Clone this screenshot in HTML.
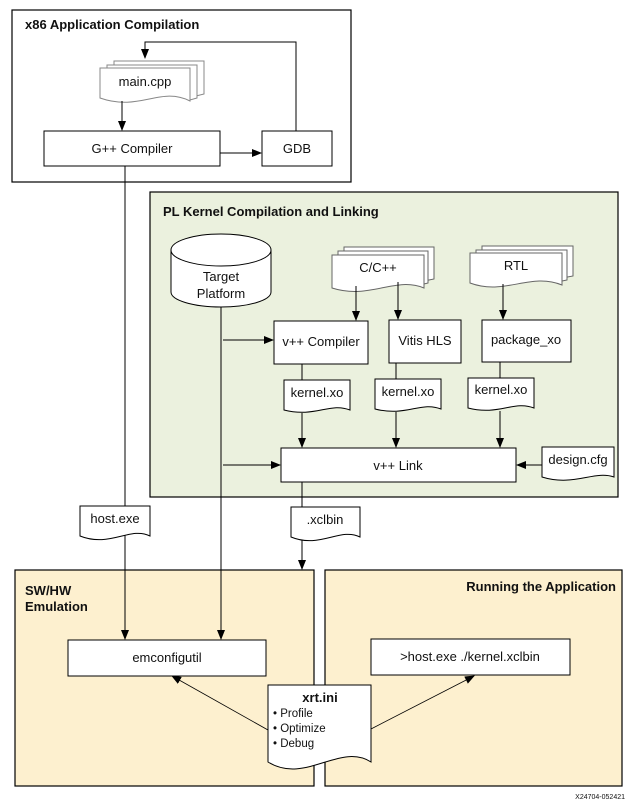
<!DOCTYPE html>
<html><head><meta charset="utf-8"><style>
html,body{margin:0;padding:0;background:#fff;}
svg{display:block;font-family:"Liberation Sans",sans-serif;}
text{font-size:13px;fill:#111;}
.t{font-weight:bold;font-size:13px;}
</style></head><body>
<svg width="634" height="804" viewBox="0 0 634 804" xmlns="http://www.w3.org/2000/svg">
<defs>
<marker id="a" markerWidth="10" markerHeight="8" refX="9" refY="4" orient="auto" markerUnits="userSpaceOnUse">
<path d="M0,0 L10,4 L0,8 Z" fill="#000"/></marker>
</defs>
<g stroke="#000" stroke-width="1.2" fill="none">
<rect x="12" y="10" width="339" height="172" fill="#fff"/>
<rect x="150" y="192" width="468" height="305" fill="#ebf1de"/>
<rect x="15" y="570" width="299" height="216" fill="#fdf0cf"/>
<rect x="325" y="570" width="297" height="216" fill="#fdf0cf"/>
</g>
<g stroke="#000" stroke-width="1" fill="none">
<path d="M125,166 V639" marker-end="url(#a)"/>
<path d="M221,306 V639" marker-end="url(#a)"/>
<path d="M302,482 V569" marker-end="url(#a)"/>
</g>
<g fill="#fff" stroke="#000" stroke-width="1">
<path d="M114,61 H204 V94 L196,96 V69 H114 Z" stroke="#888"/>
<path d="M107,65 H197 V98 L190,100 V72 H107 Z" stroke="#888"/>
<path d="M100,68 H190 V101 C160,86 140,112 100,98 Z" stroke="#888"/>
<path d="M344,247 H434 V279 L424,281 V256 H344 Z" stroke="#666"/>
<path d="M338,251 H428 V283 L424,284 V258 H338 Z" stroke="#666"/>
<path d="M332,255 H424 V288 C395,276 370,300 332,288 Z" stroke="#666"/>
<path d="M482,246 H573 V276 L562,278 V254 H482 Z" stroke="#666"/>
<path d="M476,250 H567 V280 L562,281 V256 H476 Z" stroke="#666"/>
<path d="M470,253 H562 V285 C530,272 505,296 470,283 Z" stroke="#666"/>
<path d="M284,380 H350 V410 C330,402 315,418 284,410 Z"/>
<path d="M375,379 H441 V409 C421,401 406,417 375,409 Z"/>
<path d="M468,378 H534 V408 C514,400 499,416 468,408 Z"/>
<path d="M542,447 H614 V477 C594,470 574,487 542,477 Z"/>
<path d="M80,506 H150 V536 C130,526 110,548 80,536 Z"/>
<path d="M291,507 H360 V537 C340,527 320,549 291,537 Z"/>
<path d="M268,685 H371 V762 C340,742 305,785 268,762 Z"/>
<rect x="44" y="131" width="176" height="35"/>
<rect x="262" y="131" width="70" height="35"/>
<rect x="274" y="321" width="94" height="43"/>
<rect x="389" y="320" width="72" height="43"/>
<rect x="482" y="320" width="89" height="42"/>
<rect x="281" y="448" width="235" height="34"/>
<rect x="68" y="640" width="198" height="36"/>
<rect x="371" y="639" width="199" height="36"/>
<path d="M171,250 V292 A50,15 0 0 0 271,292 V250"/>
<ellipse cx="221" cy="250" rx="50" ry="16"/>
</g>
<g stroke="#000" stroke-width="1" fill="none">
<path d="M296,131 V42 H145 V58" marker-end="url(#a)"/>
<path d="M122,101 V130" marker-end="url(#a)"/>
<path d="M220,153 H261" marker-end="url(#a)"/>
<path d="M223,340 H273" marker-end="url(#a)"/>
<path d="M223,465 H280" marker-end="url(#a)"/>
<path d="M356,286 V320" marker-end="url(#a)"/>
<path d="M398,282 V319" marker-end="url(#a)"/>
<path d="M503,284 V319" marker-end="url(#a)"/>
<path d="M302,364 V380 M302,413 V447" marker-end="url(#a)"/>
<path d="M396,363 V379 M396,412 V447" marker-end="url(#a)"/>
<path d="M500,362 V378 M500,411 V447" marker-end="url(#a)"/>
<path d="M542,465 H517" marker-end="url(#a)"/>
<path d="M268,730 L172,676" marker-end="url(#a)" stroke-width="0.8"/>
<path d="M371,729 L474,676" marker-end="url(#a)" stroke-width="0.8"/>
</g>
<text class="t" x="25" y="29">x86 Application Compilation</text>
<text class="t" x="163" y="216">PL Kernel Compilation and Linking</text>
<text class="t" x="25" y="595">SW/HW</text>
<text class="t" x="25" y="611">Emulation</text>
<text class="t" x="616" y="591" text-anchor="end">Running the Application</text>
<g text-anchor="middle">
<text x="145" y="86">main.cpp</text>
<text x="132" y="153">G++ Compiler</text>
<text x="297" y="153">GDB</text>
<text x="221" y="281">Target</text>
<text x="221" y="298">Platform</text>
<text x="378" y="272">C/C++</text>
<text x="516" y="270">RTL</text>
<text x="321" y="346">v++ Compiler</text>
<text x="425" y="345">Vitis HLS</text>
<text x="526" y="344">package_xo</text>
<text x="317" y="397">kernel.xo</text>
<text x="408" y="396">kernel.xo</text>
<text x="501" y="394">kernel.xo</text>
<text x="398" y="470">v++ Link</text>
<text x="578" y="464">design.cfg</text>
<text x="115" y="523">host.exe</text>
<text x="325" y="524">.xclbin</text>
<text x="167" y="662">emconfigutil</text>
<text x="470" y="661">&gt;host.exe ./kernel.xclbin</text>
<text x="320" y="702" style="font-weight:bold;font-size:13px">xrt.ini</text>
</g>
<text x="273" y="717" style="font-size:11.5px">• Profile</text>
<text x="273" y="732" style="font-size:11.5px">• Optimize</text>
<text x="273" y="747" style="font-size:11.5px">• Debug</text>
<text x="625" y="799" text-anchor="end" style="font-size:7px">X24704-052421</text>
</svg>
</body></html>
